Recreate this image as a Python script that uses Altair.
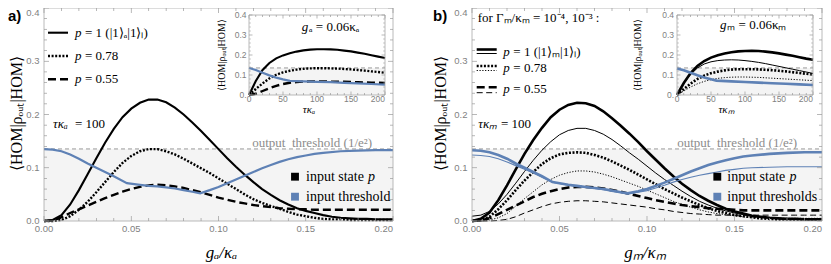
import altair as alt
import pandas as pd

# ---------------- data ----------------
G = [0.0, 0.005, 0.01, 0.015, 0.02, 0.025, 0.03, 0.035, 0.04, 0.045, 0.05, 0.055, 0.06, 0.065,
     0.07, 0.075, 0.08, 0.085, 0.09, 0.095, 0.1, 0.105, 0.11, 0.115, 0.12, 0.125, 0.13, 0.135,
     0.14, 0.145, 0.15, 0.155, 0.16, 0.165, 0.17, 0.175, 0.18, 0.185, 0.19, 0.195, 0.2]
TAU = [0, 10, 20, 30, 40, 50, 60, 70, 80, 90, 100, 110, 120, 130, 140, 150, 160, 170, 180, 190, 200]

# panel a, main
A_SOLID = [0, 0.002, 0.011, 0.031, 0.058, 0.088, 0.118, 0.147, 0.173, 0.195, 0.211, 0.222, 0.228, 0.228,
           0.223, 0.213, 0.200, 0.185, 0.169, 0.152, 0.135, 0.118, 0.102, 0.087, 0.073, 0.060, 0.049,
           0.039, 0.031, 0.024, 0.019, 0.015, 0.011, 0.008, 0.006, 0.005, 0.004, 0.004, 0.003, 0.003, 0.003]
A_DOT = [0, 0, 0.002, 0.009, 0.021, 0.036, 0.054, 0.073, 0.092, 0.109, 0.122, 0.131, 0.135, 0.135,
         0.131, 0.125, 0.117, 0.108, 0.099, 0.090, 0.080, 0.070, 0.060, 0.050, 0.041, 0.034, 0.028,
         0.023, 0.017, 0.012, 0.009, 0.006, 0.004, 0.003, 0.003, 0.002, 0.002, 0.002, 0.002, 0.002, 0.002]
A_DASH = [0, 0.001, 0.007, 0.015, 0.022, 0.029, 0.036, 0.043, 0.049, 0.055, 0.060, 0.064, 0.067, 0.068,
          0.067, 0.065, 0.062, 0.058, 0.054, 0.049, 0.044, 0.040, 0.036, 0.033, 0.030, 0.028, 0.026,
          0.024, 0.023, 0.022, 0.022, 0.021, 0.021, 0.021, 0.021, 0.021, 0.021, 0.021, 0.021, 0.021, 0.021]
A_BLUE_X = [0, 0.005, 0.01, 0.015, 0.02, 0.025, 0.03, 0.035, 0.04, 0.0475, 0.055, 0.06, 0.065, 0.07,
            0.075, 0.08, 0.085, 0.0895, 0.095, 0.1, 0.105, 0.11, 0.115, 0.12, 0.125, 0.13, 0.135, 0.14,
            0.145, 0.15, 0.155, 0.16, 0.17, 0.18, 0.19, 0.2]
A_BLUE = [0.135, 0.134, 0.131, 0.125, 0.117, 0.108, 0.100, 0.092, 0.084, 0.071, 0.068, 0.066, 0.065, 0.063,
          0.061, 0.058, 0.055, 0.052, 0.058, 0.064, 0.071, 0.078, 0.085, 0.092, 0.099, 0.105, 0.111, 0.116,
          0.120, 0.123, 0.126, 0.128, 0.131, 0.132, 0.133, 0.133]
# panel a, inset
AI_SOLID = [0, 0.070, 0.125, 0.160, 0.183, 0.198, 0.209, 0.217, 0.223, 0.227, 0.229, 0.229, 0.228, 0.226,
            0.222, 0.218, 0.212, 0.206, 0.199, 0.192, 0.185]
AI_DOT = [0, 0.030, 0.058, 0.083, 0.101, 0.113, 0.121, 0.127, 0.131, 0.133, 0.134, 0.134, 0.133, 0.132,
          0.130, 0.128, 0.125, 0.122, 0.118, 0.115, 0.111]
AI_DASH = [0, 0.006, 0.020, 0.034, 0.046, 0.055, 0.061, 0.065, 0.067, 0.068, 0.068, 0.068, 0.067, 0.067,
           0.066, 0.065, 0.064, 0.063, 0.062, 0.061, 0.060]
AI_BLUE_T = [0, 10, 20, 30, 40, 50, 60, 80, 100, 120, 140, 160, 180, 200]
AI_BLUE = [0.135, 0.125, 0.111, 0.098, 0.087, 0.078, 0.071, 0.068, 0.066, 0.064, 0.061, 0.058, 0.055, 0.052]

# panel b, main  (K = Gamma 1e-4 thick, N = Gamma 1e-3 thin)
B_SOLID_K = [0, 0.004, 0.016, 0.039, 0.067, 0.097, 0.126, 0.152, 0.175, 0.195, 0.209, 0.218, 0.222, 0.221,
             0.216, 0.206, 0.193, 0.179, 0.164, 0.148, 0.131, 0.115, 0.099, 0.084, 0.070, 0.058, 0.047,
             0.038, 0.030, 0.023, 0.018, 0.014, 0.010, 0.008, 0.006, 0.005, 0.004, 0.004, 0.003, 0.003, 0.003]
B_SOLID_N = [0.009, 0.011, 0.018, 0.032, 0.050, 0.071, 0.093, 0.114, 0.133, 0.149, 0.162, 0.170, 0.174, 0.174,
             0.170, 0.163, 0.153, 0.141, 0.128, 0.116, 0.103, 0.090, 0.078, 0.067, 0.056, 0.046, 0.037,
             0.030, 0.024, 0.019, 0.015, 0.012, 0.009, 0.007, 0.006, 0.005, 0.004, 0.004, 0.003, 0.003, 0.003]
B_DOT_K = [0, 0.001, 0.008, 0.022, 0.039, 0.058, 0.076, 0.092, 0.107, 0.118, 0.125, 0.128, 0.129, 0.128,
           0.124, 0.119, 0.112, 0.104, 0.096, 0.087, 0.078, 0.069, 0.060, 0.052, 0.044, 0.037, 0.030,
           0.024, 0.019, 0.015, 0.011, 0.009, 0.007, 0.005, 0.004, 0.003, 0.003, 0.003, 0.003, 0.003, 0.003]
B_DOT_N = [0, 0, 0.002, 0.006, 0.014, 0.028, 0.042, 0.055, 0.068, 0.078, 0.086, 0.091, 0.094, 0.094,
           0.092, 0.088, 0.083, 0.077, 0.071, 0.065, 0.058, 0.051, 0.044, 0.037, 0.031, 0.026, 0.021,
           0.017, 0.014, 0.012, 0.010, 0.008, 0.007, 0.006, 0.005, 0.005, 0.005, 0.005, 0.005, 0.005, 0.005]
B_DASH_K = [0, 0.001, 0.005, 0.013, 0.021, 0.029, 0.037, 0.045, 0.051, 0.056, 0.060, 0.063, 0.064, 0.064,
            0.063, 0.061, 0.058, 0.055, 0.051, 0.047, 0.043, 0.039, 0.036, 0.033, 0.030, 0.028, 0.026,
            0.024, 0.023, 0.022, 0.021, 0.020, 0.020, 0.020, 0.020, 0.020, 0.020, 0.020, 0.020, 0.020, 0.020]
B_DASH_N = [0, 0, 0, 0.001, 0.003, 0.008, 0.015, 0.021, 0.027, 0.032, 0.035, 0.037, 0.038, 0.038,
            0.037, 0.036, 0.034, 0.032, 0.030, 0.028, 0.026, 0.023, 0.021, 0.018, 0.016, 0.014, 0.013,
            0.012, 0.011, 0.011, 0.011, 0.011, 0.011, 0.011, 0.011, 0.011, 0.011, 0.011, 0.011, 0.011, 0.011]
B_BLUE_X = [0, 0.005, 0.01, 0.015, 0.02, 0.025, 0.03, 0.035, 0.04, 0.046, 0.055, 0.06, 0.065, 0.07,
            0.075, 0.08, 0.085, 0.089, 0.095, 0.1, 0.105, 0.11, 0.115, 0.12, 0.125, 0.13, 0.135, 0.14,
            0.145, 0.15, 0.155, 0.16, 0.17, 0.18, 0.19, 0.2]
B_BLUE_K = [0.133, 0.132, 0.129, 0.124, 0.117, 0.108, 0.100, 0.092, 0.084, 0.073, 0.068, 0.066, 0.064, 0.062,
            0.060, 0.057, 0.054, 0.052, 0.056, 0.060, 0.066, 0.072, 0.079, 0.086, 0.093, 0.099, 0.105, 0.110,
            0.114, 0.118, 0.121, 0.123, 0.126, 0.128, 0.129, 0.129]
B_BLUE_N = [0.124, 0.123, 0.121, 0.117, 0.111, 0.104, 0.097, 0.090, 0.082, 0.073, 0.067, 0.065, 0.063, 0.061,
            0.059, 0.056, 0.053, 0.051, 0.054, 0.057, 0.062, 0.067, 0.073, 0.078, 0.082, 0.086, 0.089, 0.092,
            0.095, 0.097, 0.099, 0.100, 0.101, 0.102, 0.102, 0.102]
# panel b, inset
BI_SOLID_K = [0, 0.060, 0.110, 0.145, 0.170, 0.187, 0.199, 0.208, 0.214, 0.218, 0.220, 0.221, 0.220, 0.217,
              0.213, 0.208, 0.202, 0.196, 0.189, 0.182, 0.176]
BI_SOLID_N = [0, 0.058, 0.103, 0.135, 0.155, 0.166, 0.172, 0.175, 0.176, 0.175, 0.172, 0.168, 0.163, 0.157,
              0.150, 0.143, 0.136, 0.129, 0.122, 0.115, 0.108]
BI_DOT_K = [0, 0.030, 0.057, 0.080, 0.097, 0.109, 0.117, 0.123, 0.127, 0.129, 0.129, 0.129, 0.128, 0.126,
            0.124, 0.121, 0.118, 0.114, 0.110, 0.106, 0.102]
BI_DOT_N = [0, 0.020, 0.040, 0.056, 0.068, 0.077, 0.083, 0.087, 0.089, 0.090, 0.090, 0.089, 0.088, 0.086,
            0.084, 0.082, 0.080, 0.078, 0.076, 0.074, 0.072]
BI_BLUE_T = [0, 10, 20, 30, 40, 50, 58, 80, 100, 120, 140, 160, 180, 200]
BI_BLUE = [0.133, 0.124, 0.111, 0.099, 0.088, 0.079, 0.072, 0.068, 0.065, 0.062, 0.059, 0.056, 0.053, 0.050]

THRESHOLD = 0.1353  # 1/e^2

MAIN_X_MAJ = [0, 0.05, 0.1, 0.15, 0.2]
MAIN_X_LAB = ["0.00", "0.05", "0.10", "0.15", "0.20"]
MAIN_X_MIN = [0.01, 0.02, 0.03, 0.04, 0.06, 0.07, 0.08, 0.09, 0.11, 0.12, 0.13, 0.14, 0.16, 0.17, 0.18, 0.19]
MAIN_Y_MAJ = [0, 0.1, 0.2, 0.3, 0.4]
MAIN_Y_LAB = ["0.0", "0.1", "0.2", "0.3", "0.4"]
MAIN_Y_MIN = [0.02, 0.04, 0.06, 0.08, 0.12, 0.14, 0.16, 0.18, 0.22, 0.24, 0.26, 0.28, 0.32, 0.34, 0.36, 0.38]
INS_X_MAJ = [0, 50, 100, 150, 200]
INS_X_LAB = ["0", "50", "100", "150", "200"]
INS_X_MIN = [10, 20, 30, 40, 60, 70, 80, 90, 110, 120, 130, 140, 160, 170, 180, 190]
INS_Y_MAJ = [0, 0.1, 0.2, 0.3, 0.4]
INS_Y_LAB = ["0.", "0.1", "0.2", "0.3", "0.4"]
INS_Y_MIN = [0.02, 0.04, 0.06, 0.08, 0.12, 0.14, 0.16, 0.18, 0.22, 0.24, 0.26, 0.28, 0.32, 0.34, 0.36, 0.38]

# ---------------- style ----------------
BLUE = "#5e81b5"
TICK = "#9a9a9a"
LBL = "#7f7f7f"
FILL = "#f4f4f4"
SERIF = "Liberation Serif"
SANS = "Liberation Sans"
ONE = pd.DataFrame({"k": [0]})

W, H = 815, 256

SOLID = dict(color="black", strokeWidth=2.1)
DOT = dict(color="black", strokeWidth=2.4, strokeDash=[2, 1.6])
DASH = dict(color="black", strokeWidth=2.4, strokeDash=[8, 4])
BLUE_L = dict(color=BLUE, strokeWidth=2.2)
K_SOLID = dict(color="black", strokeWidth=2.6)
N_SOLID = dict(color="black", strokeWidth=1.0)
K_DOT = dict(color="black", strokeWidth=2.6, strokeDash=[2, 1.6])
N_DOT = dict(color="black", strokeWidth=1.0, strokeDash=[1.2, 1.6])
K_DASH = dict(color="black", strokeWidth=2.6, strokeDash=[8, 4])
N_DASH = dict(color="black", strokeWidth=1.0, strokeDash=[6, 3.5])
K_BLUE = dict(color=BLUE, strokeWidth=2.6)
N_BLUE = dict(color=BLUE, strokeWidth=1.1)


def ticks(vals, side, length, xs, ys, xdom, ydom):
    df = pd.DataFrame({"t": vals})
    if side in ("bottom", "top"):
        yv = ydom[0] if side == "bottom" else ydom[1]
        off = -length / 2 if side == "bottom" else length / 2
        return alt.Chart(df).mark_tick(orient="vertical", size=length, thickness=0.7,
                                       yOffset=off, color=TICK, opacity=1).encode(
            x=alt.X("t:Q", scale=xs, axis=None),
            y=alt.YDatum(yv, scale=ys, axis=None))
    xv = xdom[0] if side == "left" else xdom[1]
    off = length / 2 if side == "left" else -length / 2
    return alt.Chart(df).mark_tick(orient="horizontal", size=length, thickness=0.7,
                                   xOffset=off, color=TICK, opacity=1).encode(
        y=alt.Y("t:Q", scale=ys, axis=None),
        x=alt.XDatum(xv, scale=xs, axis=None))


def labels_x(vals, labs, xs, y, size, align):
    return alt.Chart(pd.DataFrame({"t": vals, "lab": labs})).mark_text(
        font=SANS, fontSize=size, color=LBL, baseline="middle", align=align).encode(
        x=alt.X("t:Q", scale=xs, axis=None), y=alt.value(y), text="lab:N")


def labels_y(vals, labs, ys, x, size, baseline):
    return alt.Chart(pd.DataFrame({"t": vals, "lab": labs})).mark_text(
        font=SANS, fontSize=size, color=LBL, baseline=baseline, align="right").encode(
        y=alt.Y("t:Q", scale=ys, axis=None), x=alt.value(x), text="lab:N")


def panel(xr, yr, xdom, ydom, series, xmaj, xlab, xmin, ymaj, ylab, ymin, tmaj, tmin,
          lsize, xlab_y, ylab_x, top_baseline):
    xs = alt.Scale(domain=xdom, range=xr, nice=False, zero=False)
    ys = alt.Scale(domain=ydom, range=yr, nice=False, zero=False)
    layers = []
    layers.append(alt.Chart(ONE).mark_rect(fill="white", strokeWidth=0).encode(
        x=alt.XDatum(xdom[0], scale=xs, axis=None), x2=alt.X2Datum(xdom[1]),
        y=alt.YDatum(ydom[0], scale=ys, axis=None), y2=alt.Y2Datum(ydom[1])))
    layers.append(alt.Chart(ONE).mark_rect(fill=FILL, strokeWidth=0).encode(
        x=alt.XDatum(xdom[0], scale=xs, axis=None), x2=alt.X2Datum(xdom[1]),
        y=alt.YDatum(ydom[0], scale=ys, axis=None), y2=alt.Y2Datum(THRESHOLD)))
    layers.append(alt.Chart(ONE).mark_rule(color="#9a9a9a", strokeWidth=1, strokeDash=[4, 3]).encode(
        x=alt.XDatum(xdom[0], scale=xs, axis=None), x2=alt.X2Datum(xdom[1]),
        y=alt.YDatum(THRESHOLD, scale=ys, axis=None)))
    for xv, yv, st in series:
        df = pd.DataFrame({"x": xv, "y": yv})
        layers.append(alt.Chart(df).mark_line(**st).encode(
            x=alt.X("x:Q", scale=xs, axis=None),
            y=alt.Y("y:Q", scale=ys, axis=None)))
    layers.append(alt.Chart(ONE).mark_rect(fillOpacity=0, stroke="#a8a8a8", strokeWidth=0.8).encode(
        x=alt.XDatum(xdom[0], scale=xs, axis=None), x2=alt.X2Datum(xdom[1]),
        y=alt.YDatum(ydom[0], scale=ys, axis=None), y2=alt.Y2Datum(ydom[1])))
    for side in ("bottom", "top"):
        layers.append(ticks(xmaj, side, tmaj, xs, ys, xdom, ydom))
        layers.append(ticks(xmin, side, tmin, xs, ys, xdom, ydom))
    for side in ("left", "right"):
        layers.append(ticks(ymaj, side, tmaj, xs, ys, xdom, ydom))
        layers.append(ticks(ymin, side, tmin, xs, ys, xdom, ydom))
    # tick labels, placed through the scales
    layers.append(labels_x(xmaj[:-1], xlab[:-1], xs, xlab_y, lsize, "center"))
    layers.append(labels_x(xmaj[-1:], xlab[-1:], xs, xlab_y, lsize, "right"))
    layers.append(labels_y(ymaj[:-1], ylab[:-1], ys, ylab_x, lsize, "middle"))
    layers.append(labels_y(ymaj[-1:], ylab[-1:], ys, ylab_x, lsize, top_baseline))
    return alt.layer(*layers)


def txt(s, x, y, size=13, font=SERIF, style="normal", weight="normal", color="black",
        align="left", angle=0):
    mk = dict(text=s, font=font, fontSize=size, fontStyle=style, fontWeight=weight,
              color=color, align=align, baseline="middle")
    if angle:
        mk["angle"] = angle
    return alt.Chart(ONE).mark_text(**mk).encode(x=alt.value(x), y=alt.value(y))


def seg(x1, x2, y, st):
    return alt.Chart(ONE).mark_rule(**st).encode(x=alt.value(x1), x2=alt.value(x2), y=alt.value(y))


def square(x, y, c):
    return alt.Chart(ONE).mark_square(size=62, color=c, opacity=1).encode(x=alt.value(x), y=alt.value(y))


MAIN_YR = [213, 0]
INS_YR = [87, 7]

pa = panel([36, 385], MAIN_YR, [0, 0.2], [0, 0.4],
           [(G, A_SOLID, SOLID), (G, A_DOT, DOT), (G, A_DASH, DASH), (A_BLUE_X, A_BLUE, BLUE_L)],
           MAIN_X_MAJ, MAIN_X_LAB, MAIN_X_MIN, MAIN_Y_MAJ, MAIN_Y_LAB, MAIN_Y_MIN, 5, 3,
           9.5, 221.3, 31.5, "top")
ia = panel([241, 377], INS_YR, [0, 200], [0, 0.4],
           [(TAU, AI_SOLID, SOLID), (TAU, AI_DOT, DOT), (TAU, AI_DASH, DASH), (AI_BLUE_T, AI_BLUE, BLUE_L)],
           INS_X_MAJ, INS_X_LAB, INS_X_MIN, INS_Y_MAJ, INS_Y_LAB, INS_Y_MIN, 3.5, 2,
           8.5, 90.8, 238.5, "middle")
pb = panel([464, 814], MAIN_YR, [0, 0.2], [0, 0.4],
           [(G, B_SOLID_K, K_SOLID), (G, B_SOLID_N, N_SOLID), (G, B_DOT_K, K_DOT), (G, B_DOT_N, N_DOT),
            (G, B_DASH_K, K_DASH), (G, B_DASH_N, N_DASH),
            (B_BLUE_X, B_BLUE_K, K_BLUE), (B_BLUE_X, B_BLUE_N, N_BLUE)],
           MAIN_X_MAJ, MAIN_X_LAB, MAIN_X_MIN, MAIN_Y_MAJ, MAIN_Y_LAB, MAIN_Y_MIN, 5, 3,
           9.5, 221.3, 459.5, "top")
ib = panel([669, 805], INS_YR, [0, 200], [0, 0.4],
           [(TAU, BI_SOLID_K, K_SOLID), (TAU, BI_SOLID_N, N_SOLID), (TAU, BI_DOT_K, K_DOT),
            (TAU, BI_DOT_N, N_DOT), (BI_BLUE_T, BI_BLUE, K_BLUE)],
           INS_X_MAJ, INS_X_LAB, INS_X_MIN, INS_Y_MAJ, INS_Y_LAB, INS_Y_MIN, 3.5, 2,
           8.5, 90.8, 666, "middle")

YT = "⟨HOM|ρₒᵤₜ|HOM⟩"
ann = [
    # panel a
    txt("a)", 0, 8, size=15, font=SANS, weight="bold"),
    seg(40, 60, 24.7, SOLID), seg(40, 60, 48, DOT), seg(40, 60, 71.3, DASH),
    txt("p", 67, 24.7, style="italic"), txt("= 1 (|1⟩ₐ|1⟩ₗ)", 77, 24.7),
    txt("p", 67, 48, style="italic"), txt("= 0.78", 77, 48),
    txt("p", 67, 71.3, style="italic"), txt("= 0.55", 77, 71.3),
    txt("τκₐ", 45, 116, style="italic"), txt("= 100", 67, 116),
    txt("output\u00a0\u00a0threshold (1/e²)", 364, 134.5, size=13, color="#8c8c8c", align="right"),
    square(287, 168.7, "black"), square(287, 188.7, BLUE),
    txt("input state", 298, 168.7, size=14), txt("p", 360, 168.7, size=14, style="italic"),
    txt("input threshold", 298, 188.7, size=14),
    txt("g", 293.7, 19.3, style="italic"), txt("ₐ = 0.06κₐ", 301, 19.3),
    txt("τκₐ", 301, 101.5, size=11, style="italic", align="center"),
    txt(YT, 213.7, 47, size=10, angle=270, align="center"),
    txt(YT, 9, 105.5, size=16, angle=270, align="center"),
    txt("gₐ/κₐ", 213.5, 245, size=17, style="italic", align="center"),
    # panel b
    txt("b)", 425, 8, size=15, font=SANS, weight="bold"),
    txt("for Γₘ/κₘ = 10⁻⁴, 10⁻³ :", 469.7, 10.3),
    seg(468.7, 488.7, 41.5, K_SOLID), seg(468.7, 488.7, 45.5, N_SOLID),
    seg(468.7, 488.7, 58, K_DOT), seg(468.7, 488.7, 62.5, N_DOT),
    seg(468.7, 488.7, 79.3, K_DASH), seg(468.7, 488.7, 84.7, N_DASH),
    txt("p", 495.3, 44, style="italic"), txt("= 1 (|1⟩ₘ|1⟩ₗ)", 505.3, 44),
    txt("p", 495.3, 60.3, style="italic"), txt("= 0.78", 505.3, 60.3),
    txt("p", 495.3, 81.3, style="italic"), txt("= 0.55", 505.3, 81.3),
    txt("τκₘ", 470.3, 116, style="italic"), txt("= 100", 493, 116),
    txt("output\u00a0\u00a0threshold (1/e²)", 789, 134.5, size=13, color="#8c8c8c", align="right"),
    square(709.3, 168.7, "black"), square(709.3, 188.7, BLUE),
    txt("input state", 719.3, 168.7, size=14), txt("p", 781.5, 168.7, size=14, style="italic"),
    txt("input thresholds", 719.3, 188.7, size=14),
    txt("g", 712, 17, style="italic"), txt("ₘ = 0.06κₘ", 719.3, 17),
    txt("τκₘ", 718.5, 101.5, size=11, style="italic", align="center"),
    txt(YT, 629.5, 47, size=10, angle=270, align="center"),
    txt(YT, 433, 105.5, size=16, angle=270, align="center"),
    txt("gₘ/κₘ", 637, 245, size=17, style="italic", align="center"),
]

chart = alt.layer(pa, ia, pb, ib, *ann).resolve_scale(
    x="independent", y="independent"
).properties(
    width=W, height=H, padding=0, autosize=alt.AutoSizeParams(type="none")
).configure_view(strokeWidth=0)

chart.save("out.html", embed_options={"renderer": "svg", "actions": False})
